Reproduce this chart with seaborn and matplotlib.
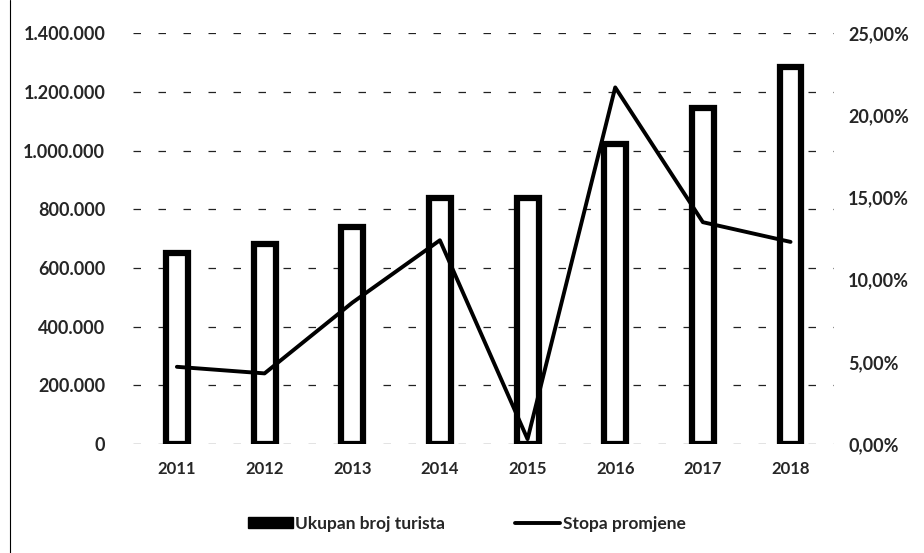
import numpy as np
import pandas as pd
import matplotlib.pyplot as plt
import seaborn as sns
from matplotlib.lines import Line2D
from matplotlib.patches import Patch

# podaci
godine = ["2011", "2012", "2013", "2014", "2015", "2016", "2017", "2018"]
turisti = [650000, 681000, 739000, 838000, 838000, 1022000, 1145000, 1284000]
stopa = [4.7, 4.3, 8.6, 12.4, 0.3, 21.7, 13.5, 12.3]

df = pd.DataFrame({"godina": godine, "turisti": turisti, "stopa": stopa})

sns.set_style("white")
plt.rcParams["font.family"] = ["Lato", "DejaVu Sans"]
plt.rcParams["font.weight"] = "bold"

fig = plt.figure(figsize=(9.24, 5.53), dpi=100)
ax = fig.add_axes([0.144, 0.197, 0.759, 0.743])

sns.barplot(data=df, x="godina", y="turisti", color="white", edgecolor="black",
            linewidth=4.5, width=0.25, ax=ax)
ax.set_ylim(0, 1400000)
ax.set_yticks(np.arange(0, 1400001, 200000))
ax.set_yticklabels([f"{v:,}".replace(",", ".") for v in range(0, 1400001, 200000)])
ax.set_xlim(-0.5, 7.5)
ax.set_xlabel("")
ax.set_ylabel("")
ax.yaxis.grid(True, color="#222222", linestyle=(0, (6, 14)), linewidth=0.9)
ax.set_axisbelow(True)
for s in ax.spines.values():
    s.set_visible(False)
ax.tick_params(axis="x", length=0, labelsize=12, pad=12)
ax.tick_params(axis="y", length=0, labelsize=13, pad=20)

ax2 = ax.twinx()
sns.lineplot(x=np.arange(len(godine)), y=df["stopa"], color="black", linewidth=2.8, ax=ax2)
ax2.set_ylim(0, 25)
ax2.set_yticks(np.arange(0, 26, 5))
ax2.set_yticklabels([f"{v:.2f}%".replace(".", ",") for v in np.arange(0, 26, 5)])
ax2.set_ylabel("")
for s in ax2.spines.values():
    s.set_visible(False)
ax2.tick_params(axis="y", length=0, labelsize=13, pad=10)
ax.set_xlim(-0.5, 7.5)

handles = [Patch(facecolor="black", edgecolor="black"),
           Line2D([0], [0], color="black", linewidth=2.8)]
fig.legend(handles, ["Ukupan broj turista", "Stopa promjene"], loc="center",
           bbox_to_anchor=(0.505, 0.053), ncol=2, frameon=False, fontsize=12.5,
           handlelength=2.6, handleheight=0.6, columnspacing=4.0, handletextpad=0.15)

# rub skenirane stranice
fig.add_artist(Line2D([0.011, 0.011], [0.0, 1.0], color="black", linewidth=0.8,
                      transform=fig.transFigure))

fig.savefig("out.png", dpi=100)
